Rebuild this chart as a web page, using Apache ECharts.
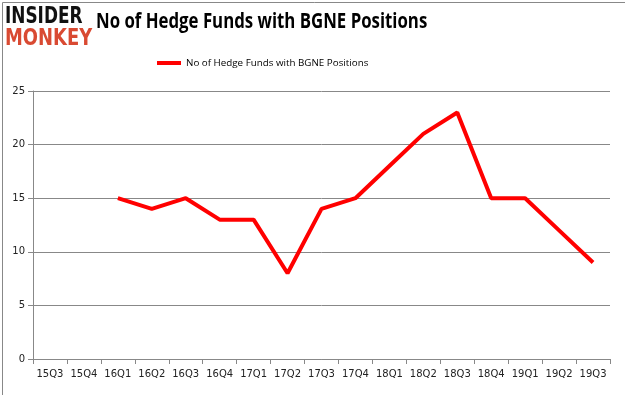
<!DOCTYPE html>
<html><head><meta charset="utf-8">
<script src="https://cdn.jsdelivr.net/npm/echarts@6/dist/echarts.min.js"></script>
<style>html,body{margin:0;padding:0;background:#fff}#c{width:625px;height:395px}</style>
</head><body><div id="c"></div>
<script>
const categories = ['15Q3','15Q4','16Q1','16Q2','16Q3','16Q4','17Q1','17Q2','17Q3','17Q4','18Q1','18Q2','18Q3','18Q4','19Q1','19Q2','19Q3'];
const values = [null,null,15,14,15,13,13,8,14,15,18,21,23,15,15,12,9];
const yTicks = [0,5,10,15,20,25];
const seriesName = 'No of Hedge Funds with BGNE Positions';
const titleText = 'No of Hedge Funds with BGNE Positions';

const chart = echarts.init(document.getElementById('c'));
chart.setOption({
  animation:false,
  backgroundColor:'#fff',
  legend:{data:[seriesName],top:53,left:152,itemWidth:24,itemHeight:4,itemGap:3,
    icon:'rect',textStyle:{fontFamily:'"Open Sans"',fontSize:9.8,color:'#000'}},
  graphic:[
    {type:'rect',left:0,top:0,shape:{width:624,height:394},style:{fill:'none',stroke:'#888',lineWidth:1}},
    {type:'text',x:96,y:12,scaleX:0.8,style:{text:titleText,fontFamily:'Open Sans',fontWeight:'bold',fontSize:21,fill:'#000'}},
    {type:'text',x:5,y:6,scaleX:0.735,style:{text:'INSIDER',fontFamily:'DejaVu Sans',fontWeight:900,fontSize:23,fill:'#111'}},
    {type:'text',x:5,y:28,scaleX:0.78,style:{text:'MONKEY',fontFamily:'DejaVu Sans',fontWeight:900,fontSize:23,fill:'#d94a32'}}
  ],
  grid:{left:33,right:15,top:91,bottom:36,containLabel:false},
  xAxis:{type:'category',data:categories,boundaryGap:true,
    axisLine:{lineStyle:{color:'#888'}},axisTick:{show:true,alignWithLabel:false,lineStyle:{color:'#888'}},
    axisLabel:{fontFamily:'"DejaVu Sans"',fontSize:10,color:'#222',margin:10,interval:0}},
  yAxis:{type:'value',min:0,max:25,interval:5,
    axisLine:{show:true,lineStyle:{color:'#888'}},axisTick:{show:true,lineStyle:{color:'#888'}},
    splitLine:{lineStyle:{color:'#888'}},
    axisLabel:{fontFamily:'"DejaVu Sans"',fontSize:10,color:'#222',margin:8}},
  series:[{name:seriesName,type:'line',data:values,showSymbol:false,symbol:'none',
    lineStyle:{color:'#ff0000',width:4},itemStyle:{color:'#ff0000'},connectNulls:false}]
});
</script></body></html>
